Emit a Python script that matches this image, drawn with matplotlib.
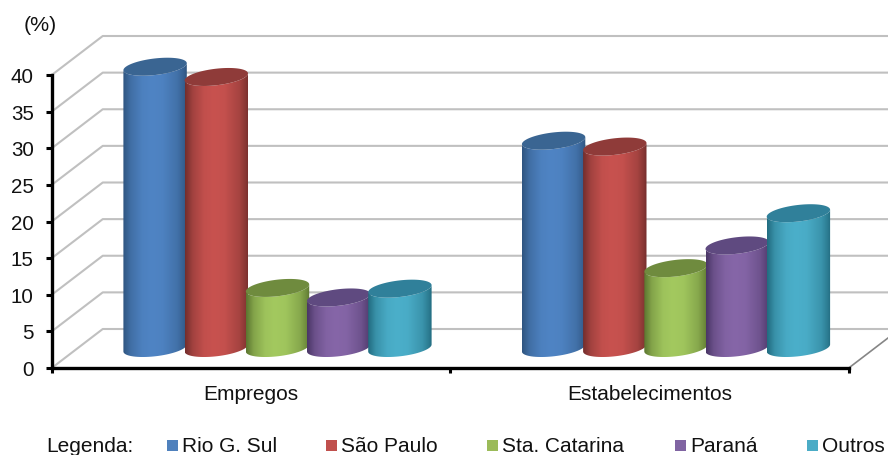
import numpy as np
import matplotlib
matplotlib.use('Agg')
import matplotlib.pyplot as plt
from matplotlib.colors import LinearSegmentedColormap, to_rgb
from matplotlib.patches import PathPatch, Rectangle
from matplotlib.path import Path

plt.rcParams['font.family'] = ['Liberation Sans', 'DejaVu Sans']

# data
groups = ['Empregos', 'Estabelecimentos']
series = ['Rio G. Sul', 'São Paulo', 'Sta. Catarina', 'Paraná', 'Outros']
rio = [38.4, 28.3]
sao_paulo = [37.0, 27.5]
sta_catarina = [8.2, 10.9]
parana = [6.9, 14.0]
outros = [8.1, 18.4]
yticks = [0, 5, 10, 15, 20, 25, 30, 35, 40]

# (edge, mid, top face) per series
colors = [('#2f5580', '#4f84c4', '#3a6592'),
          ('#742e2c', '#c8524f', '#8f3b39'),
          ('#5c7630', '#a3c95f', '#6f8b3e'),
          ('#4a3666', '#8666a8', '#5f4a80'),
          ('#226c80', '#4bafca', '#30809a')]
legend_colors = ['#4f81bd', '#c0504d', '#9bbb59', '#8064a2', '#4bacc6']

W, H = 888, 455
X0, X_STEP = 251.0, 398.5     # px of first group centre, px per group
Y0, Y_STEP = 368.0, 7.325     # px of value 0, px per value unit
DEPTH_X, DEPTH_Y = 51.0, 39.0 # px offset of the back wall
TEXT_SIZE = 15
TICK_SIZE = 14.8
TEXT_COLOR = '#111111'

fig = plt.figure(figsize=(W / 100, H / 100), dpi=100)
ax = fig.add_axes([0, 0, 1, 1])
ax.axis('off')

dx = 1 / X_STEP   # one pixel in data units
dy = 1 / Y_STEP
xlim = ((0 - X0) * dx, (W - X0) * dx)
ylim = ((Y0 - H) * dy, Y0 * dy)
x_left, x_right = -0.5, 1.5

# back wall grid
for v in yticks:
    ax.plot([x_left, x_left + DEPTH_X * dx, xlim[1]],
            [v, v + DEPTH_Y * dy, v + DEPTH_Y * dy],
            color='#c0c0c0', lw=1.5, zorder=1, solid_capstyle='butt')
ax.plot([x_right, x_right + DEPTH_X * dx], [0, DEPTH_Y * dy],
        color='#868686', lw=1.2, zorder=1)


def shade_map(c_edge, c_mid):
    # dark rim, light band a bit left of centre, slow fall to the right
    e, m = np.array(to_rgb(c_edge)), np.array(to_rgb(c_mid))
    stops = [(0.0, 0.0), (0.12, 0.55), (0.3, 0.92), (0.45, 1.0), (0.62, 0.95),
             (0.85, 0.6), (0.95, 0.25), (1.0, 0.0)]
    return LinearSegmentedColormap.from_list(
        'c', [(p, tuple(e + (m - e) * k)) for p, k in stops], N=128)


def draw_cylinder(xc, value, c_edge, c_mid, c_top, z):
    half = 31.7 * dx
    shear = 3.5 * dy
    b = 8.3 * dy
    base = 20 * dy
    top = value + 20 * dy
    t = np.linspace(0, 2 * np.pi, 80)
    # body outline: lower arc at the top rim, then lower arc at the base
    t_low = np.linspace(np.pi, 2 * np.pi, 40)
    ex = xc + half * np.cos(t_low)
    ey = shear * np.cos(t_low) + b * np.sin(t_low)
    px = np.r_[ex, ex[::-1]]
    py = np.r_[top + ey, base + ey[::-1]]
    grad = np.linspace(0, 1, 128).reshape(1, -1)
    im = ax.imshow(grad, cmap=shade_map(c_edge, c_mid), aspect='auto', zorder=z,
                   extent=[xc - half, xc + half, base - 3 * b, top + 3 * b])
    patch = PathPatch(Path(np.c_[px, py]), fc='none', ec='none', transform=ax.transData)
    ax.add_patch(patch)
    im.set_clip_path(patch)
    ax.fill(xc + half * np.cos(t), top + shear * np.cos(t) + b * np.sin(t),
            color=c_top, lw=0, zorder=z + 0.1)


values = [rio, sao_paulo, sta_catarina, parana, outros]
bar_step = 61.2 * dx
z = 2
for g in range(len(groups)):
    for s, vals in enumerate(values):
        xc = g + 26.5 * dx + (s - 2) * bar_step
        draw_cylinder(xc, vals[g], *colors[s], z)
        z += 1
ax.set_xlim(*xlim)
ax.set_ylim(*ylim)

# axes lines and ticks
ax.plot([x_left, x_left], [0, 40], color='black', lw=2.4, zorder=30, solid_capstyle='projecting')
ax.plot([x_left, x_right], [0, 0], color='black', lw=2.4, zorder=30, solid_capstyle='projecting')
for v in yticks:
    ax.plot([x_left - 6 * dx, x_left], [v, v], color='black', lw=2.2, zorder=30, solid_capstyle='butt')
    ax.text(x_left - 18 * dx, v - 2.5 * dy, str(v), ha='right', va='center',
            fontsize=TICK_SIZE, color=TEXT_COLOR, zorder=31)
for x in [x_left, 0.5, x_right]:
    ax.plot([x, x], [0, -5 * dy], color='black', lw=2.2, zorder=30, solid_capstyle='butt')
for g, name in enumerate(groups):
    ax.text(g, -27 * dy, name, ha='center', va='center', fontsize=TEXT_SIZE, color=TEXT_COLOR)

ax.text(x_left - 28 * dx, 342.5 * dy, '(%)', ha='left', va='center', fontsize=15.4, color=TEXT_COLOR)

# legend row
text_y = (Y0 - 446.5) * dy
ax.text((46 - X0) * dx, text_y, 'Legenda:', ha='left', va='center', fontsize=TEXT_SIZE, color=TEXT_COLOR)
square_px = [167, 326, 487, 675, 807]
for px_x, name, col in zip(square_px, series, legend_colors):
    ax.add_patch(Rectangle(((px_x - X0) * dx, (Y0 - 451) * dy), 11 * dx, 11 * dy, fc=col, ec='none'))
    ax.text((px_x + 15 - X0) * dx, text_y, name, ha='left', va='center', fontsize=TEXT_SIZE, color=TEXT_COLOR)

fig.savefig('out.png', dpi=100)
